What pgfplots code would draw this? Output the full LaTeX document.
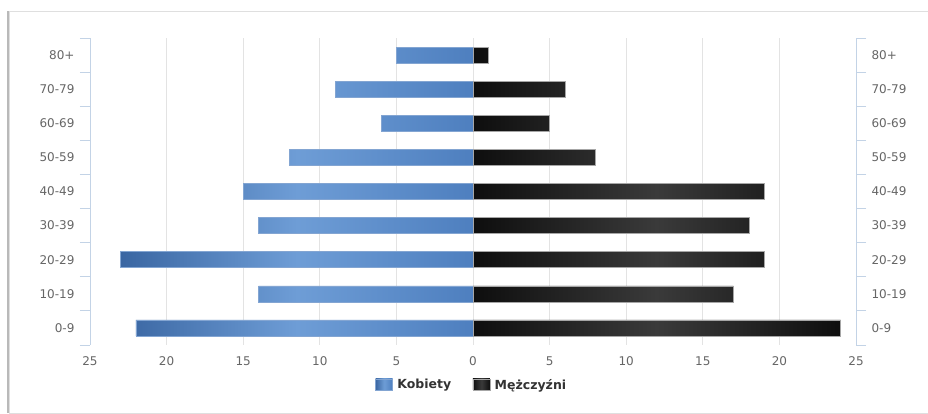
\documentclass[border=0pt]{standalone}
\usepackage{fontspec}
\setmainfont{DejaVu Sans}
\usepackage{pgfplots}
\pgfplotsset{compat=1.18}
\definecolor{tickgray}{HTML}{666666}
\definecolor{axblue}{HTML}{C3D3E6}
\definecolor{gridgray}{HTML}{E3E3E3}
\definecolor{bdark}{HTML}{3A66A2}
\definecolor{blight}{HTML}{6E9DD6}
\definecolor{bmid}{HTML}{4E7FBF}
\definecolor{kdark}{HTML}{0E0E0E}
\definecolor{klight}{HTML}{3A3A3A}
\begin{document}
\begin{tikzpicture}[x=1pt,y=1pt]
\useasboundingbox (0,0) rectangle (928,414);
% frame
\fill[white] (9,1) rectangle (935,403);
\draw[gray!25, line width=0.8pt] (9,1) rectangle (935,403);
\draw[gray!55, line width=2pt] (8,1) -- (8,403);
\pgfplotsset{
  common/.style={
    scale only axis, width=766pt, height=307pt,
    at={(90pt,69pt)}, anchor=south west,
    xmin=-25, xmax=25, ymin=-0.5, ymax=8.5,
    ytick={0,...,8},
    yticklabels={0-9,10-19,20-29,30-39,40-49,50-59,60-69,70-79,80+},
    minor ytick={-0.5,0.5,...,8.5},
    major tick length=0pt, minor tick length=10pt, tick align=outside,
    minor y tick style={axblue, line width=0.8pt},
    tick label style={font=\fontsize{12}{14}\selectfont, text=tickgray},
    /pgf/number format/assume math mode=true,
  }
}
\begin{axis}[common,
  axis y line*=left, axis x line*=bottom,
  x axis line style={draw=none},
  y axis line style={axblue, line width=0.8pt, -},
  xtick={-25,-20,...,25},
  xticklabels={25,20,15,10,5,0,5,10,15,20,25},
  xtick style={draw=none},
  xmajorgrids, major x grid style={gridgray, line width=0.8pt},
  yticklabel style={xshift=-12pt},
  xticklabel style={yshift=-8pt},
  xbar, bar width=16pt, bar shift=0pt,
  legend style={draw=none, at={(0.5,-0.13)}, anchor=center, legend columns=2,
    font=\fontsize{12.5}{14}\selectfont\bfseries, text=black!80,
    nodes={inner xsep=4.5pt},
    /tikz/every even column/.append style={column sep=17pt}},
  legend image code/.code={\draw[#1] (0pt,-5pt) rectangle (17pt,6pt);},
]
\addplot[draw=bmid!70, line width=0.5pt, left color=bdark, right color=bmid, middle color=blight]
  coordinates {(-22,0) (-14,1) (-23,2) (-14,3) (-15,4) (-12,5) (-6,6) (-9,7) (-5,8)};
\addlegendentry{Kobiety}
\addplot[draw=gray!70, line width=0.5pt, left color=kdark, right color=kdark, middle color=klight]
  coordinates {(24,0) (17,1) (19,2) (18,3) (19,4) (8,5) (5,6) (6,7) (1,8)};
\addlegendentry{Mężczyźni}
\end{axis}
\begin{axis}[common,
  axis y line*=right, axis x line=none,
  y axis line style={axblue, line width=0.8pt, -},
  xtick=\empty,
  yticklabel style={xshift=12pt},
]
\end{axis}
\end{tikzpicture}
\end{document}
